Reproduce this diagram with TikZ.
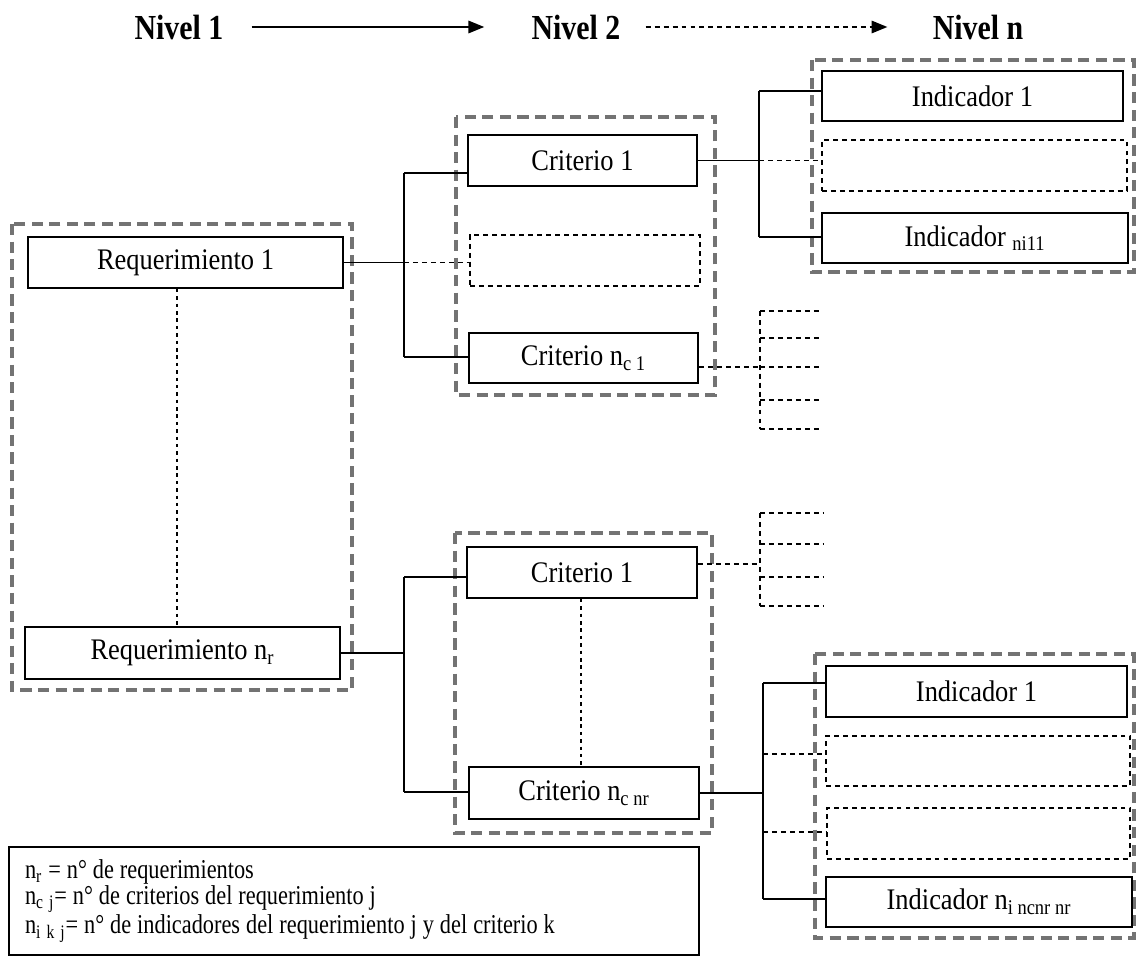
\documentclass[tikz,border=0pt]{standalone}
\usepackage{fontspec}
\setmainfont{Liberation Serif}
\newfontfamily\bodyfont{Liberation Serif}[FakeStretch=0.885]
\newfontfamily\keyfont{Liberation Serif}[FakeStretch=0.82]
\newfontfamily\headfont{Liberation Serif}[FakeStretch=0.85]
\usetikzlibrary{arrows.meta}

\begin{document}
\begin{tikzpicture}[x=0.02cm,y=-0.02cm,
  box/.style={draw, line width=1.1pt, inner sep=0pt, font=\bodyfont\fontsize{17}{20}\selectfont},
  ghost/.style={draw, line width=1pt, inner sep=0pt, dash pattern=on 2.8pt off 2.3pt},
  grp/.style={draw=black!55, line width=1.9pt, dash pattern=on 6.4pt off 3.6pt},
  link/.style={line width=1.1pt},
  dlink/.style={line width=1pt, dash pattern=on 2.8pt off 2.3pt},
  dots/.style={line width=0.9pt, dash pattern=on 2pt off 2.2pt},
  lvl/.style={inner sep=0pt, font=\headfont\bfseries\fontsize{20}{24}\selectfont},
  lvlarrow/.style={line width=1.2pt, -{Triangle[length=9pt,width=7pt]}},
]
\useasboundingbox (0,0) rectangle (1137,963);

% level headings
\node[lvl] (n1) at (179,27) {Nivel 1};
\node[lvl] (n2) at (576,27) {Nivel 2};
\node[lvl] (nn) at (978,27) {Nivel n};
\draw[lvlarrow, shorten <=0.56cm, shorten >=0.94cm] (n1.east) -- (n2.west);
\draw[lvlarrow, dash pattern=on 2.8pt off 2.3pt, shorten <=0.5cm, shorten >=0.9cm] (n2.east) -- (nn.west);

% grouping frames
\draw[grp] (12,224) rectangle (352,690);
\draw[grp] (456,117) rectangle (715,395);
\draw[grp] (812,60) rectangle (1134,272);
\draw[grp] (455,533) rectangle (712,833);
\draw[grp] (815,654) rectangle (1134,938);

% level 1
\node[box, minimum width=6.3cm, minimum height=1.02cm] (req1) at (185.5,262.5) {Requerimiento 1};
\node[box, minimum width=6.3cm, minimum height=1.04cm] (reqn) at (182.5,653) {Requerimiento n\textsubscript{r}};

% level 2
\node[box, minimum width=4.58cm, minimum height=1.02cm] (crit1) at (582.5,160.5) {Criterio 1};
\node[ghost, minimum width=4.6cm, minimum height=1.02cm] (critx) at (585,260.5) {};
\node[box, minimum width=4.58cm, minimum height=1.0cm] (critn) at (583.5,358) {Criterio n\textsubscript{c 1}};
\node[box, minimum width=4.6cm, minimum height=1.02cm] (critA) at (582,572.5) {Criterio 1};
\node[box, minimum width=4.6cm, minimum height=1.04cm] (critB) at (584,793) {Criterio n\textsubscript{c nr}};

% level n
\node[box, minimum width=6.02cm, minimum height=1.0cm] (ind1) at (972.5,96) {Indicador 1};
\node[ghost, minimum width=6.1cm, minimum height=1.02cm] (indx) at (974.5,165.5) {};
\node[box, minimum width=6.12cm, minimum height=1.0cm] (indn) at (975,238) {Indicador \textsubscript{ni11}};
\node[box, minimum width=6.02cm, minimum height=1.02cm] (indA) at (976.5,691.5) {Indicador 1};
\node[ghost, minimum width=6.08cm, minimum height=1.0cm] (indB) at (978,761) {};
\node[ghost, minimum width=6.06cm, minimum height=1.02cm] (indC) at (978.5,833.5) {};
\node[box, minimum width=6.12cm, minimum height=1.0cm] (indD) at (979,902) {Indicador n\textsubscript{i ncnr nr}};

% Requerimiento 1 -> its criteria
\coordinate (ja1) at (404,173);
\coordinate (ja2) at (404,357);
\draw[link] (req1.east) -- (req1.east -| ja1);
\draw[link] (ja1) -- (ja2);
\draw[link] (ja1) -- (crit1.west |- ja1);
\draw[link] (ja2) -- (critn.west |- ja2);
\draw[dlink] (req1.east -| ja1) -- (critx.west |- req1.east);

% Criterio 1 -> its indicators
\coordinate (jb1) at (759,91);
\coordinate (jb2) at (759,237);
\draw[link] (crit1.east) -- (crit1.east -| jb1);
\draw[link] (jb1) -- (jb2);
\draw[link] (jb1) -- (ind1.west |- jb1);
\draw[link] (jb2) -- (indn.west |- jb2);
\draw[dlink] (crit1.east -| jb1) -- (indx.west |- crit1.east);

% Criterio n_c1 -> open branches
\coordinate (jc0) at (760,367);
\coordinate (jc1) at (760,311);
\coordinate (jc2) at (760,429);
\draw[dlink] (critn.east |- jc0) -- (jc0);
\draw[dlink] (jc1) -- (jc2);
\foreach \y in {311,338,367,400,429}
  \draw[dlink] (760,\y) -- (822,\y);

% lower Criterio 1 -> open branches
\coordinate (jd0) at (760,564);
\coordinate (jd1) at (760,513);
\coordinate (jd2) at (760,606);
\draw[dlink] (critA.east |- jd0) -- (jd0);
\draw[dlink] (jd1) -- (jd2);
\foreach \y in {513,544,577,606}
  \draw[dlink] (760,\y) -- (823,\y);

% Requerimiento n_r -> its criteria
\coordinate (je1) at (404,577);
\coordinate (je2) at (404,792);
\draw[link] (reqn.east) -- (reqn.east -| je1);
\draw[link] (je1) -- (je2);
\draw[link] (je1) -- (critA.west |- je1);
\draw[link] (je2) -- (critB.west |- je2);

% Criterio n_c nr -> its indicators
\coordinate (jf1) at (763,683);
\coordinate (jf2) at (763,899);
\coordinate (jf3) at (763,754);
\coordinate (jf4) at (763,832);
\draw[link] (critB.east) -- (critB.east -| jf1);
\draw[link] (jf1) -- (jf2);
\draw[link] (jf1) -- (indA.west |- jf1);
\draw[link] (jf2) -- (indD.west |- jf2);
\draw[dlink] (jf3) -- (indB.west |- jf3);
\draw[dlink] (jf4) -- (indC.west |- jf4);

% elided items
\coordinate (da) at (177,0);
\draw[dots] (req1.south -| da) -- (reqn.north -| da);
\coordinate (db) at (581,0);
\draw[dots] (critA.south -| db) -- (critB.north -| db);

% notation key
\node[draw, line width=1.1pt, minimum width=13.8cm, minimum height=2.16cm,
      text width=13.16cm, inner xsep=0.32cm, align=left,
      font=\keyfont\fontsize{15.5}{14.9}\selectfont] (key) at (354,901)
  {\spaceskip=3.4pt\relax
   n\textsubscript{r} = n° de requerimientos\\
   n\textsubscript{c j}= n° de criterios del requerimiento j\\
   n\textsubscript{i k j}= n° de indicadores del requerimiento j y del criterio k};
\end{tikzpicture}
\end{document}
